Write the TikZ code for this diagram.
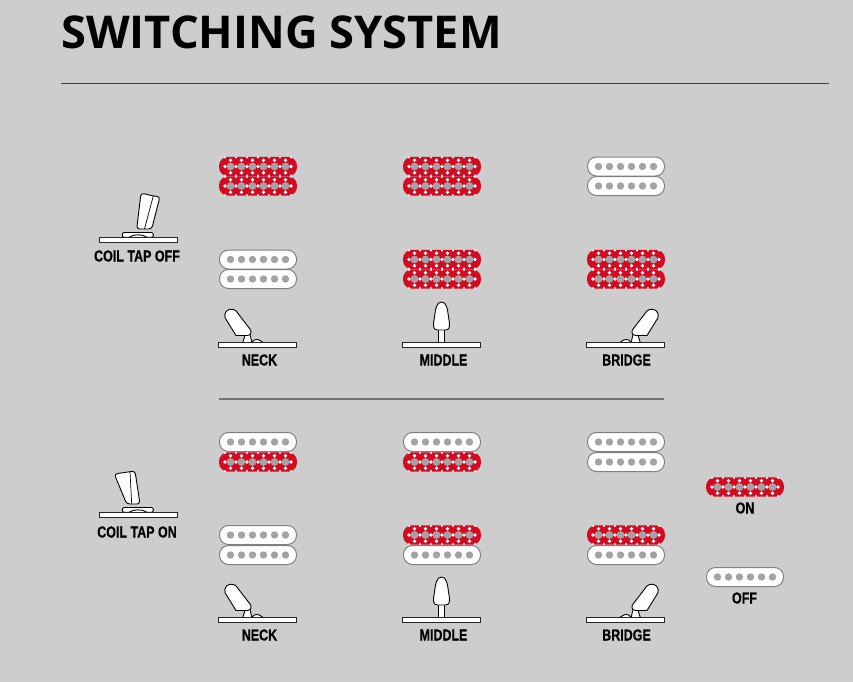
\documentclass[tikz,border=0pt]{standalone}
\usepackage{fontspec}
\setmainfont{Open Sans}
\newfontfamily\labelfont[FakeStretch=0.78, BoldFeatures={FakeBold=0.5}]{Liberation Sans}
\definecolor{pagegrey}{HTML}{CDCDCD}
\definecolor{coilred}{HTML}{D40A22}
\definecolor{poleGrey}{HTML}{A3A3A3}
\tikzset{
  toggletext/.style={font=\labelfont\bfseries\fontsize{16}{16}\selectfont, inner sep=0pt, text=black},
  plate/.style={draw=black!85, fill=white, line width=0.8pt},
  lever/.style={draw=black, fill=white, line width=0.9pt, line join=round},
  coil off/.pic={
    \draw[draw=black!50, fill=white, line width=1pt, rounded corners=9pt] (-38.5,-9.5) rectangle (38.5,9.5);
    \foreach \x in {-27.5,-16.5,-5.5,5.5,16.5,27.5}
      \fill[poleGrey] (\x,0) circle(3.7);
  },
  coil on/.pic={
    \fill[coilred, rounded corners=9pt] (-39,-9.7) rectangle (39,9.7);
    \foreach \x in {-27.5,-16.5,-5.5,5.5,16.5,27.5} {
      \fill[white] (\x,-6.2) circle(1.9);
      \fill[white] (\x,6.2) circle(1.9);
      \fill[poleGrey] (\x,0) circle(3.9);
    }
    \foreach \x in {-33,-22,-11,0,11,22,33} {
      \fill[white] (\x,0) circle(1.8);
      \fill[white] (\x,-9) circle(1.2);
      \fill[white] (\x,9) circle(1.2);
    }
  },
  switch base/.pic={
    \draw[plate] (-39,-2.7) rectangle (39,2.7);
  },
  switch side/.pic={
    \draw[lever] (-5.7,-2.7) .. controls (-3,-6.5) and (1,-6.5) .. (5.3,-2.7);
    \draw[lever] (-14.7,-2.7) -- (-12,-11) -- (-8,-13) -- (-5.7,-2.7);
    \draw[lever] (-21.5,-9.5) -- (-32.3,-27)
      .. controls (-35,-36) and (-23,-39) .. (-19.5,-31.5)
      -- (-6.8,-15) .. controls (-5.5,-11) and (-8,-9.5) .. (-11,-9.5) -- cycle;
    \pic {switch base};
  },
  switch mid/.pic={
    \draw[lever] (-3.3,-2.7) -- (-3.3,-16) -- (3.3,-16) -- (3.3,-2.7);
    \draw[lever] (0,-43) .. controls (-5,-43) and (-6,-36) .. (-7,-28)
      .. controls (-8.5,-20) and (-9,-15) .. (-4,-15) -- (4,-15)
      .. controls (9,-15) and (8.5,-20) .. (7,-28) .. controls (6,-36) and (5,-43) .. (0,-43) -- cycle;
    \pic {switch base};
  },
  tap off/.pic={
    \draw[lever, rounded corners=2pt] (-15.7,-2.7) -- (-15.7,-7.5) -- (15.3,-7.5) -- (15.3,-2.7) -- cycle;
    \draw[lever] (-9,-2.7) .. controls (-5,-6) and (5,-6) .. (9,-2.7);
    \draw[lever, rounded corners=3pt] (3,-47) -- (15.3,-44) -- (22,-43.3) -- (13.7,-11) -- (-1.3,-11) -- cycle;
    \draw[line width=0.7pt] (15.3,-44) -- (6.5,-11);
    \pic {switch base};
  },
  tap on/.pic={
    \draw[lever, rounded corners=2pt] (-15.7,-2.7) -- (-15.7,-7.5) -- (15.3,-7.5) -- (15.3,-2.7) -- cycle;
    \draw[lever] (-9,-2.7) .. controls (-5,-6) and (5,-6) .. (9,-2.7);
    \draw[lever, rounded corners=3pt] (-23.7,-41) -- (-8,-43.3) -- (-3,-44) -- (2,-11) -- (-11.3,-11) -- cycle;
    \draw[line width=0.7pt] (-8,-43.3) -- (-6.3,-11);
    \pic {switch base};
  }
}
\begin{document}
\begin{tikzpicture}[x=1pt, y=-1pt]
\useasboundingbox (0, 0) rectangle (853, 682);
\fill[pagegrey] (0, 0) rectangle (853, 682);

\node[anchor=base west, inner sep=0pt, font=\bfseries\fontsize{45.2}{46}\selectfont] (title) at (61, 49) {SWITCHING SYSTEM};
\coordinate (ruleA) at (61, 83);
\coordinate (ruleB) at (829, 83);
\draw[black!75, line width=0.8pt] (ruleA) -- (ruleB);
\coordinate (dividerA) at (219, 399);
\coordinate (dividerB) at (664, 399);
\draw[black!55, line width=1.6pt] (dividerA) -- (dividerB);

% pickups
\foreach \x/\y/\state in {258/166.5/on, 258/186/on, 442/166.5/on, 442/186/on, 626/166.5/off, 626/186/off,
                          258/259.5/off, 258/279/off, 442/259.5/on, 442/279/on, 626/259.5/on, 626/279/on,
                          258/442/off, 258/462/on, 442/442/off, 442/462/on, 626/442/off, 626/462/off,
                          258/535/off, 258/555/off, 442/535/on, 442/555/off, 626/535/on, 626/555/off,
                          745/487/on, 745/577/off}
    \pic at (\x, \y) {coil \state};

% toggles
\foreach \y in {345, 620} {
    \pic at (257.5, \y) {switch side};
    \pic at (441.5, \y) {switch mid};
    \pic[xscale=-1] at (625.5, \y) {switch side};
}
\pic at (138, 240) {tap off};
\pic at (138, 515) {tap on};

% labels
\foreach \x/\y/\name/\word in {137/256/tapoff/COIL TAP OFF, 137/532/tapon/COIL TAP ON,
                               259.5/360/neckA/NECK, 443.5/360/middleA/MIDDLE, 626.5/360/bridgeA/BRIDGE,
                               259.5/635/neckB/NECK, 443.5/635/middleB/MIDDLE, 626.5/635/bridgeB/BRIDGE,
                               745/508/on/ON, 744.5/598/off/OFF}
    \node[toggletext] (\name) at (\x, \y) {\word};
\end{tikzpicture}
\end{document}
